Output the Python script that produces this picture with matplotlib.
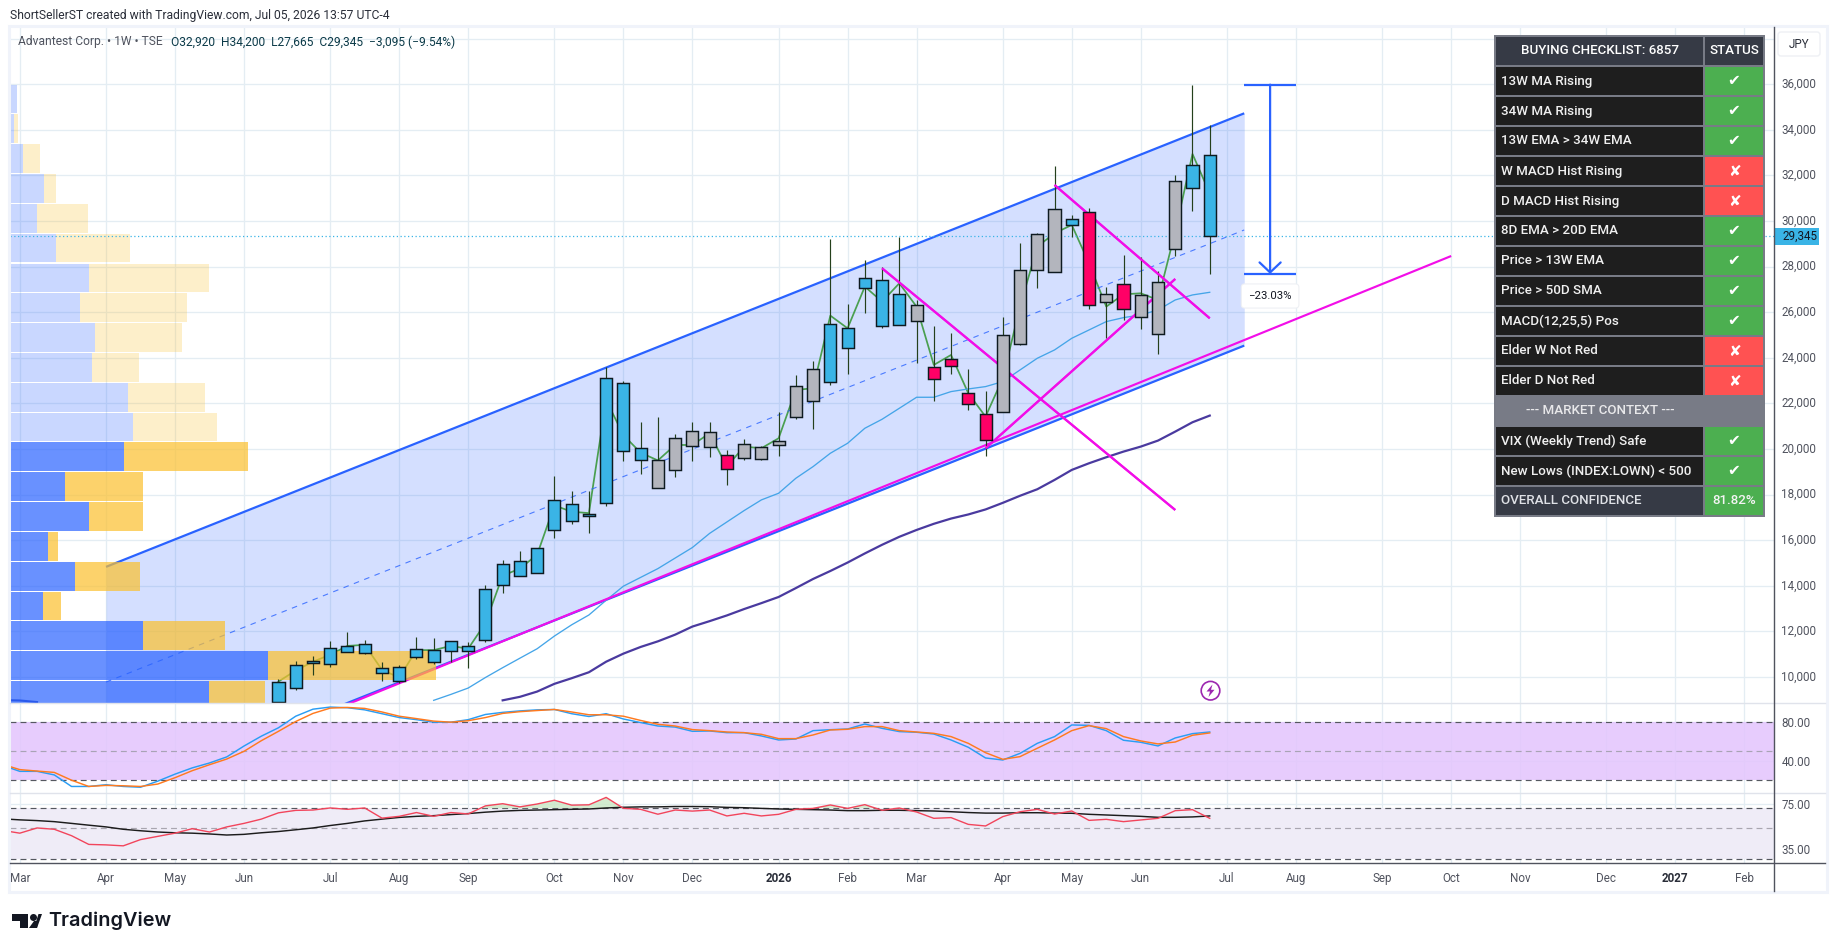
#!/usr/bin/env python
"""Advantest weekly chart with channel, volume profile, stoch RSI, RSI and checklist table."""
import numpy as np
import matplotlib
matplotlib.use('Agg')
import matplotlib.pyplot as plt
from matplotlib.patches import Rectangle, FancyBboxPatch, Circle, Polygon
from matplotlib.ticker import NullLocator
from matplotlib.transforms import ScaledTranslation

plt.rcParams['font.family'] = ['Roboto', 'DejaVu Sans']

W, H = 1835, 951

# weekly candles, bar index 15..69
candle_start = 15
body_top = [9777, 10516, 10686, 11256, 11349, 11441, 10378, 10424, 11210, 11179, 11595, 11379, 13876,
            14939, 15078, 15648, 17775, 17574, 17143, 23116, 22890, 20055, 19500, 20502, 20810,
            20736, 19727, 20209, 20078, 20341, 22753, 23499, 25473, 25297, 27490, 27402, 26788,
            26306, 23587, 23938, 22446, 21525, 24990, 27841, 29435, 30517, 30078, 30385, 26818,
            27227, 26745, 27315, 31745, 32446, 32920]
body_bot = [8900, 9500, 10593, 10563, 11117, 11071, 10162, 9807, 10871, 10671, 11133, 11133, 11641,
            14030, 14415, 14554, 16434, 16835, 17050, 17620, 19901, 19500, 18283, 19084, 20148,
            20107, 19142, 19625, 19581, 20195, 21423, 22125, 22958, 24449, 27081, 25414, 25458,
            25634, 23090, 23660, 21993, 20414, 21642, 24625, 27870, 27783, 29844, 26335, 26467,
            26160, 25780, 25063, 28791, 31438, 29345]
wick_hi = [9900, 10701, 10917, 11580, 11980, 11610, 10655, 10516, 11765, 11718, 11595, 11518, 14030,
           15124, 15525, 15678, 18822, 18144, 18175, 23610, 23000, 21180, 21411, 20641, 21180,
           21189, 19961, 20443, 20137, 21613, 23250, 23864, 29215, 26364, 28294, 28000, 29303,
           26540, 25400, 25093, 23499, 22549, 25809, 29055, 29493, 32417, 30268, 30560, 27095,
           28514, 28411, 27812, 32022, 35970, 34200]
wick_lo = [8700, 9438, 10100, 10439, 11117, 11025, 9807, 9746, 10794, 10563, 10671, 10408, 11549,
           13706, 14415, 14554, 16110, 16727, 16295, 17500, 19454, 18915, 18283, 18792, 19485,
           19669, 18426, 19522, 19522, 19713, 21306, 20897, 22797, 23294, 25955, 25327, 25458,
           23791, 22125, 23294, 21716, 19713, 21642, 24566, 27066, 27783, 29318, 26145, 24888,
           25663, 25282, 24186, 28470, 30444, 27665]
candle_kind = list('bbbbbbbbbbbbbbbbbbbbbb' 'gggg' 'r' 'ggggg' 'bbbbb' 'g' 'rrrr' 'gggg' 'b' 'r' 'g' 'r' 'ggg' 'bb')

# green line through the candles, same index range
green_line = [9800, 10285, 10670, 10979, 11364, 11410, 10316, 9977, 11179, 11179, 11364, 11240, 12366,
              14446, 14754, 15370, 17528, 17250, 17189, 22151, 20610, 19840, 19500, 20178, 20178,
              20692, 19230, 20107, 20034, 20473, 22593, 22666, 25853, 25297, 27125, 26467, 27271,
              26248, 23689, 24128, 22446, 21423, 23104, 26248, 28879, 29464, 29830, 28148, 26248,
              26788, 26832, 26540, 29537, 32943, 31218]

ma_start = 24
ma_fast = [8976, 9237, 9515, 9977, 10408, 10825, 11240, 11796, 12289, 12720, 13367, 13984, 14369,
           14754, 15217, 15679, 16300, 16800, 17300, 17768, 18060, 18718, 19230, 19815, 20253,
           20911, 21306, 21788, 22271, 22271, 22520, 22636, 22739, 22958, 23470, 23982, 24347,
           24859, 25224, 25590, 25765, 25882, 26101, 26540, 26760, 26876]
slow_start = 28
ma_slow = [8976, 9130, 9361, 9700, 9946, 10208, 10671, 11025, 11318, 11564, 11857, 12212,
           12450, 12700, 12980, 13240, 13510, 13900, 14300, 14650, 15020, 15420, 15800, 16150,
           16450, 16720, 16950, 17130, 17350, 17640, 17950, 18236, 18645, 19084, 19376, 19640,
           19888, 20107, 20371, 20765, 21175, 21467]
ma_slow_left = [8985, 8970, 8900]

# volume profile rows, top row first
vp_top = 36013
vp_step = 1308.6
vp_up = [7, 4, 13, 34, 27, 46, 79, 70, 85, 82, 118, 123, 114, 55, 79, 38, 65, 33, 133, 258, 199]
vp_dn = [0, 4, 17, 12, 51, 74, 120, 107, 87, 47, 77, 84, 124, 78, 54, 10, 65, 18, 82, 168, 56]
vp_value_area_from = 12

# channel + drawn lines, (bar index, price)
channel_x = [5, 71]
channel_up = [14831, 34727]
channel_mid = [9777, 29610]
channel_lo = [4641, 24537]
magenta_lines = [([19, 83], [8800, 28468]),
                 ([50, 67], [27929, 17326]),
                 ([60, 69], [31584, 25736]),
                 ([56, 67], [20034, 27461])]
measure_x = [71, 74]
measure_hi = 35985
measure_lo = 27680
measure_text = '\u221223.03%'

# stoch rsi, bar index -1..69
osc_start = -1
stoch_k = [35.2, 29, 29, 25.3, 13.3, 13.3, 15.1, 13.3, 12.5, 18.8, 26.1, 32.6, 37.7, 44, 55.3, 65.5, 74.3,
           86.3, 93.6, 95.8, 95.1, 92.9, 88.9, 84.9, 82.7, 80.1, 80.1, 82.7, 88.1, 90.3, 91.8, 92.9, 93.3,
           88.9, 86, 88.9, 83.4, 79.7, 76.1, 75, 70.6,
           70.95, 69.2, 69.2, 65.8, 61.6, 62.6, 71.3, 72.3, 73, 78.2, 73.7, 70.3, 69.6, 67.8, 61.6, 54,
           42.9, 40.8, 47.7, 58.1, 65.1, 77.2, 76.8, 71.3, 61.3, 59.2, 55.4, 63.7, 68.2, 69.9]
stoch_d = [36.3, 30.8, 29.3, 27.9, 19.8, 13.3, 14.4, 14, 13.3, 15.8, 22.4, 29.7, 35.9, 41.8, 49.8, 60.8, 70.6,
           80.8, 89.2, 94.7, 95.4, 94.4, 90.7, 86.3, 83.8, 81.2, 80.1, 81.6, 84.9, 89.2, 91, 92.2, 93.3,
           90.7, 87.8, 87.8, 86.3, 81.9, 77.9, 76.1, 72.4,
           71.3, 69.9, 69.2, 67.5, 63, 63, 66.8, 72, 72.7, 75.5, 75.5, 71.3, 69.9, 68.5, 65.1, 58.1,
           48.4, 41.5, 44.3, 53, 61.6, 71.3, 76.5, 73.4, 65.1, 60.6, 57.5, 59.5, 66.5, 68.9]

# rsi + its average
rsi = [48.2, 46, 50.2, 49.1, 44.1, 38.1, 37.8, 37.2, 41.3, 43.6, 46, 49.6, 46.9, 51.1, 54.2, 58.2, 64.7,
       67.4, 67.8, 70.2, 68.6, 70.2, 59.2, 61, 65, 61, 65, 63.5, 72.7, 75.4, 71.5, 75, 79.9,
       73.6, 74, 83.8, 69.8, 68.6, 63.2, 67.8, 66.6,
       67.8, 61.4, 64.2, 61.4, 63.1, 68.6, 69.7, 73.8, 69.7, 74.2, 67.5, 70.1, 65.6, 59, 59.7, 53.3,
       51.9, 60.7, 65.9, 68.6, 63.4, 66.7, 57, 58, 55.8, 57.4, 59, 67.1, 68.2, 59]
rsi_ma = [58.5, 57.5, 56.8, 55.8, 54.2, 52.6, 51.1, 49.1, 47.9, 46.9, 46.3, 46, 45.4, 44.6, 45.1, 46.3, 47.3,
          48.7, 50.2, 52.3, 54.2, 56.5, 58.2, 59.9, 61, 61.7, 62.8, 63.9, 65.4, 66.6, 67.4, 67.8, 68.2,
          68.6, 69, 70.2, 71, 71.5, 71.5, 71.9, 71.9,
          71.7, 70.9, 70.5, 69.7, 69, 68.6, 68.2, 67.8, 67.1, 67.1, 67.5, 67.5, 67.1, 66.7, 65.9, 65,
          64.4, 64.4, 64.8, 64.8, 64.4, 64.2, 63.1, 62.4, 61.7, 61, 60, 60, 60.4, 61.4]

# axis labels
month_ticks = [0, 5, 9, 13, 18, 22, 26, 31, 35, 39, 44, 48, 52, 57, 61, 65, 70, 74, 79, 83, 87, 92, 96, 100]
month_labels = ['Mar', 'Apr', 'May', 'Jun', 'Jul', 'Aug', 'Sep', 'Oct', 'Nov', 'Dec', '2026', 'Feb',
                'Mar', 'Apr', 'May', 'Jun', 'Jul', 'Aug', 'Sep', 'Oct', 'Nov', 'Dec', '2027', 'Feb']
price_ticks = [10000, 12000, 14000, 16000, 18000, 20000, 22000, 24000, 26000, 28000, 30000, 32000, 34000,
               36000, 38000]
last_close = 29345

# checklist table
table_rows = [('13W MA Rising', 1), ('34W MA Rising', 1), ('13W EMA > 34W EMA', 1), ('W MACD Hist Rising', 0),
              ('D MACD Hist Rising', 0), ('8D EMA > 20D EMA', 1), ('Price > 13W EMA', 1), ('Price > 50D SMA', 1),
              ('MACD(12,25,5) Pos', 1), ('Elder W Not Red', 0), ('Elder D Not Red', 0)]
context_rows = [('VIX (Weekly Trend) Safe', 1), ('New Lows (INDEX:LOWN) < 500', 1)]

BLUE = '#3ab4e6'
GRAY = '#b3b5bd'
PINK = '#ff0066'
TXT = '#50535e'
GRID = '#e4edf3'
CH = '#2962ff'
kind_color = {'b': BLUE, 'g': GRAY, 'r': PINK}


def box(l, t, r, b):
    return [l / W, 1 - b / H, (r - l) / W, (b - t) / H]


fig = plt.figure(figsize=(W / 100, H / 100), dpi=100, facecolor='white')
ax = fig.add_axes(box(10, 27, 1773.5, 703))
ax1 = fig.add_axes(box(10, 703.5, 1773.5, 793), sharex=ax)
ax2 = fig.add_axes(box(10, 793, 1773.5, 863), sharex=ax)

x0 = -0.568
ax.set_xlim(x0, 101.69)
bar_px = 17.247

for a in (ax, ax1, ax2):
    for s in a.spines.values():
        s.set_visible(False)
    a.set_xticks(month_ticks)
    a.grid(color=GRID, lw=0.95, zorder=0)
    a.set_axisbelow(True)
    a.yaxis.tick_right()
    a.tick_params(length=0, labelsize=8.4, labelcolor=TXT, pad=5.6)

# price pane
ax.set_ylim(8859, 38514)
ax.set_yticks(price_ticks)
ax.set_yticklabels([f'{p:,}' if p < 38000 else '' for p in price_ticks])
ax.tick_params(axis='x', labelbottom=False)
up_shift = ScaledTranslation(0, 1.5 / 100, fig.dpi_scale_trans)
for t in ax.get_yticklabels():
    t.set_transform(t.get_transform() + up_shift)

ax.fill_between(channel_x, channel_lo, channel_up, color=CH, alpha=0.2, lw=0, zorder=1)
ax.plot(np.arange(candle_start, candle_start + len(green_line)), green_line, color='#4a9f50', lw=1.25, zorder=2)
ax.plot(channel_x, channel_up, color=CH, lw=1.6, zorder=3, solid_capstyle='butt')
ax.plot(channel_x, channel_lo, color=CH, lw=1.6, zorder=3, solid_capstyle='butt')
ax.plot(channel_x, channel_mid, color=CH, lw=0.8, ls=(0, (5, 5)), alpha=0.8, zorder=3)
ax.plot(np.arange(0, len(ma_slow_left)) - 1, ma_slow_left, color='#2a45c0', lw=1.5, zorder=3)
ax.plot(np.arange(ma_start, ma_start + len(ma_fast)), ma_fast, color='#45a5e8', lw=0.95, zorder=3)
ax.plot(np.arange(slow_start, slow_start + len(ma_slow)), ma_slow, color='#4a3a9f', lw=1.6, zorder=3)
for lx, ly in magenta_lines:
    ax.plot(lx, ly, color='#f20ee8', lw=1.55, zorder=3.5, solid_capstyle='butt')

for i, (u, d) in enumerate(zip(vp_up, vp_dn)):
    yc = vp_top - (i + 0.5) * vp_step
    dark = i >= vp_value_area_from
    ax.barh(yc, u / bar_px, left=x0, height=vp_step * 0.965, color='#2962ff', alpha=0.7 if dark else 0.25, lw=0, zorder=4)
    ax.barh(yc, d / bar_px, left=x0 + u / bar_px, height=vp_step * 0.965, color='#fbc02d', alpha=0.7 if dark else 0.25,
            lw=0, zorder=4)

ax.axhline(last_close, color=BLUE, lw=0.9, ls=(0, (1, 2)), zorder=5)

idx = np.arange(candle_start, candle_start + len(body_top))
ax.vlines(idx, wick_lo, wick_hi, color='#24401c', lw=0.85, zorder=6)
ax.bar(idx, np.array(body_top) - np.array(body_bot), bottom=body_bot, width=0.7,
       color=[kind_color[k] for k in candle_kind], edgecolor='#0e1a20', lw=1.05, zorder=7)

# magenta runs over the candles on the right hand side too
for lx, ly in magenta_lines[1:]:
    ax.plot(lx, ly, color='#f20ee8', lw=1.55, zorder=6.5, solid_capstyle='butt')

# measure tool
mx = sum(measure_x) / 2
ax.hlines([measure_hi, measure_lo], measure_x[0], measure_x[1], color=CH, lw=1.6, zorder=8)
ax.annotate('', xy=(mx, measure_lo), xytext=(mx, measure_hi), zorder=8,
            arrowprops=dict(arrowstyle='->,head_width=0.76,head_length=0.72', color=CH, lw=1.6, shrinkA=0, shrinkB=0))
ax.text(mx, 26713, measure_text, ha='center', va='center', fontsize=8.2, color='#131722', zorder=9,
        bbox=dict(boxstyle='round,pad=0.62,rounding_size=0.3', fc='white', ec='#eef0f4', lw=0.8))

# stoch rsi pane
osc_x = np.arange(osc_start, osc_start + len(stoch_k))
ax1.set_ylim(6.5, 99.5)
ax1.set_yticks([40, 80])
ax1.set_yticklabels(['40.00', '80.00'])
ax1.tick_params(axis='x', labelbottom=False)
ax1.axhspan(20, 80, color='#e3c4fd', alpha=0.85, lw=0, zorder=1)
for v, c in ((80, '#555860'), (50, '#a9a3b5'), (20, '#555860')):
    ax1.axhline(v, color=c, lw=0.85, ls=(0, (5, 3.5)), zorder=2)
ax1.plot(osc_x, stoch_k, color='#2a9df4', lw=1.05, zorder=3)
ax1.plot(osc_x, stoch_d, color='#ff7a1f', lw=1.05, zorder=4)

# rsi pane, log scale
ax2.set_yscale('log')
ax2.set_ylim(27.9, 90.2)
ax2.set_yticks([35, 75])
ax2.set_yticklabels(['35.00', '75.00'])
ax2.yaxis.set_minor_locator(NullLocator())
ax2.axhspan(30, 70, color='#efecf7', lw=0, zorder=1)
for v, c in ((70, '#555860'), (50, '#a9a6b0'), (30, '#555860')):
    ax2.axhline(v, color=c, lw=0.85, ls=(0, (5, 3.5)), zorder=2)
r = np.array(rsi)
ax2.fill_between(osc_x, 70, r, where=r > 70, interpolate=True, color='#c9e7c4', alpha=0.8, lw=0, zorder=2)
ax2.plot(osc_x, rsi_ma, color='#1c1c1c', lw=1.05, zorder=3)
ax2.plot(osc_x, rsi, color='#f2455c', lw=1.0, zorder=4)

ax2.set_xticklabels(month_labels)
ax2.tick_params(axis='x', pad=6.5)
for t in ax2.get_xticklabels():
    if t.get_text().startswith('20'):
        t.set_color('#2a2e39')
        t.set_fontweight('bold')

# everything drawn in pixel space
ov = fig.add_axes([0, 0, 1, 1], zorder=10)
ov.set_xlim(0, W)
ov.set_ylim(H, 0)
ov.axis('off')

ov.add_patch(Rectangle((8.5, 26), 1818.5, 866, fc='none', ec='#f0f3fa', lw=2.2))
ov.plot([10, 1825], [703, 703], color='#e0e3eb', lw=1)
ov.plot([10, 1825], [793, 793], color='#e0e3eb', lw=1)
ov.plot([10, 1825], [863, 863], color='#50535e', lw=1)
ov.plot([1773.5, 1773.5], [27, 891], color='#50535e', lw=1)

ov.text(10, 15, 'ShortSellerST created with TradingView.com, Jul 05, 2026 13:57 UTC-4', fontsize=8.7,
        color='#2a2e39', va='center')
ov.text(18, 42, 'Advantest Corp. \u2022 1W \u2022 TSE', fontsize=8.65, color='#50535e', va='center')
ov.text(171, 42, 'O32,920  H34,200  L27,665  C29,345  \u22123,095 (\u22129.54%)', fontsize=8.65, color='#0b3a48',
        va='center')

# last price tag and currency button
y_last = H - ax.transData.transform((0, last_close))[1]
ov.add_patch(Rectangle((1773.5, y_last - 8.5), 45.5, 17, fc=BLUE, ec='none'))
ov.text(1782, y_last, f'{last_close:,}', fontsize=8.4, color='#131722', va='center')
ov.add_patch(FancyBboxPatch((1778, 32), 42, 24, boxstyle='round,pad=0,rounding_size=3', fc='white', ec='#eef0f4', lw=1))
ov.text(1799, 44, 'JPY', fontsize=8.4, color='#2a2e39', ha='center', va='center')

# lightning badge
ov.add_patch(Circle((1210.5, 690.7), 9.3, fc='white', ec='#9c27b0', lw=1.2))
ov.add_patch(Polygon([(1212.5, 684.5), (1206.5, 691.5), (1210, 691.5), (1208.5, 697), (1214.5, 689.8), (1211, 689.8)],
                     fc='#9c27b0', ec='none'))

# table
t_l, t_r, t_top, row_h = 1494, 1765, 35, 30
all_rows = [('BUYING CHECKLIST: 6857', 'head')] + table_rows + [('--- MARKET CONTEXT ---', 'ctx')] + context_rows + \
    [('OVERALL CONFIDENCE', 'total')]
ov.add_patch(Rectangle((t_l, t_top), t_r - t_l, row_h * len(all_rows) + 1.7, fc='#787b86', ec='none'))
for i, (label, state) in enumerate(all_rows):
    top = t_top + 1.5 + i * row_h
    yc = top + 14.5
    if state == 'ctx':
        ov.text(1600, yc, label, fontsize=9.6, fontweight='medium', color='#e8e8ea', ha='center', va='center')
        continue
    dark = state in ('head', 'total')
    ov.add_patch(Rectangle((1496, top), 206.7, 28.2, fc='#363a45' if dark else '#1e1e1e', ec='none'))
    if state == 'head':
        ov.add_patch(Rectangle((1705, top), 58, 28.2, fc='#363a45', ec='none'))
        ov.text(1600, yc, label, fontsize=9.6, fontweight='medium', color='white', ha='center', va='center')
        ov.text(1734, yc, 'STATUS', fontsize=9.6, fontweight='medium', color='white', ha='center', va='center')
        continue
    ov.text(1501, yc, label, fontsize=9.6, fontweight='medium', color='#f0f0f0' if not dark else '#dfe1e6', va='center')
    if state == 'total':
        ov.add_patch(Rectangle((1705, top), 58, 28.2, fc='#4caf50', ec='none'))
        ov.text(1734, yc, '81.82%', fontsize=9.6, fontweight='medium', color='#f4f4f4', ha='center', va='center')
    else:
        ov.add_patch(Rectangle((1705, top), 58, 28.2, fc='#4caf50' if state else '#ff5252', ec='none'))
        ov.text(1734, yc, '\u2714' if state else '\u2718', fontsize=11, color='white', ha='center', va='center',
                family='DejaVu Sans')

# logo
ov.add_patch(Polygon([(12, 914), (28, 914), (28, 928), (20, 928), (20, 921), (12, 921)], fc='#131722', ec='none'))
ov.add_patch(Circle((33.5, 917.5), 3.5, fc='#131722', ec='none'))
ov.add_patch(Polygon([(34, 928), (38.5, 914), (42, 914), (37, 928)], fc='#131722', ec='none'))
ov.add_patch(Polygon([(29, 928), (34, 921), (38, 921), (37, 928)], fc='#131722', ec='none'))
ov.text(48.5, 921, 'TradingView', fontsize=14.3, fontweight='semibold', family=['Inter', 'DejaVu Sans'], color='#131722',
        va='center')

fig.savefig('out.png', dpi=100)
